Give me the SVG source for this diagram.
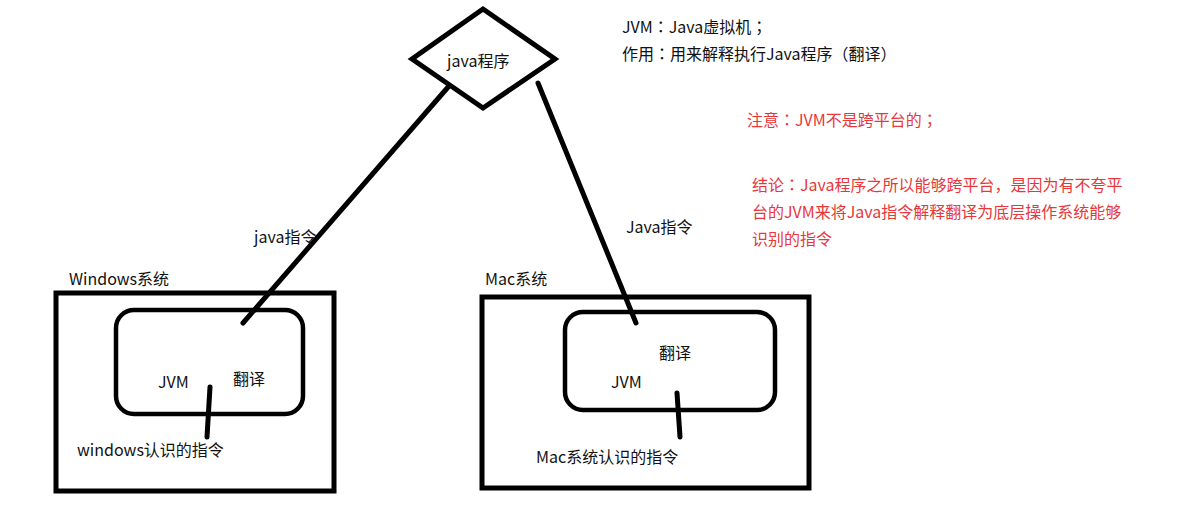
<svg xmlns="http://www.w3.org/2000/svg" width="1200" height="506" viewBox="0 0 1200 506">
<style>
text{font-family:"Microsoft YaHei","Noto Sans CJK SC",sans-serif;font-size:16px;fill:#111}
.p{font-family:"Noto Sans CJK TC","Noto Sans CJK SC",sans-serif}
.red{fill:#e8373a}
.thick{fill:none;stroke:#000;stroke-width:5;stroke-linejoin:miter}
.inner{fill:none;stroke:#000;stroke-width:4.5}
.ln{stroke:#000;stroke-width:5;stroke-linecap:round;fill:none}
</style>
<rect width="1200" height="506" fill="#fff"/>
<g id="connectors">
<line class="ln" x1="449" y1="86" x2="243" y2="323"/>
<line class="ln" x1="538" y1="83" x2="636" y2="323"/>
<line class="ln" x1="210" y1="387" x2="207" y2="437"/>
<line class="ln" x1="677" y1="393" x2="680" y2="437"/>
<text x="254" y="243">java指令</text>
<text x="626" y="233">Java指令</text>
</g>
<g id="java-program">
<polygon class="thick" points="483,9 555,59 483,108 412,59"/>
<text x="447" y="67">java程序</text>
</g>
<g id="windows">
<rect class="thick" x="56" y="293" width="278" height="198"/>
<text x="69" y="285">Windows系统</text>
<g id="windows-jvm">
<rect class="inner" x="116" y="310" width="187" height="104" rx="18"/>
<text x="158" y="388">JVM</text>
<text x="233" y="385">翻译</text>
</g>
<text x="77" y="456">windows认识的指令</text>
</g>
<g id="mac">
<rect class="thick" x="482" y="297" width="327" height="191"/>
<text x="485" y="285">Mac系统</text>
<g id="mac-jvm">
<rect class="inner" x="565" y="312" width="210" height="98" rx="18"/>
<text x="659" y="359">翻译</text>
<text x="611" y="388">JVM</text>
</g>
<text x="536" y="463">Mac系统认识的指令</text>
</g>
<g id="notes">
<text x="622" y="33">JVM<tspan class="p">：</tspan>Java虚拟机<tspan class="p">；</tspan></text>
<text x="622" y="60">作用<tspan class="p">：</tspan>用来解释执行Java程序（翻译）</text>
<text class="red" x="747" y="126">注意<tspan class="p">：</tspan>JVM不是跨平台的<tspan class="p">；</tspan></text>
<text class="red" x="752" y="191">结论<tspan class="p">：</tspan>Java程序之所以能够跨平台，是因为有不夸平</text>
<text class="red" x="752" y="218">台的JVM来将Java指令解释翻译为底层操作系统能够</text>
<text class="red" x="752" y="245">识别的指令</text>
</g>
</svg>
